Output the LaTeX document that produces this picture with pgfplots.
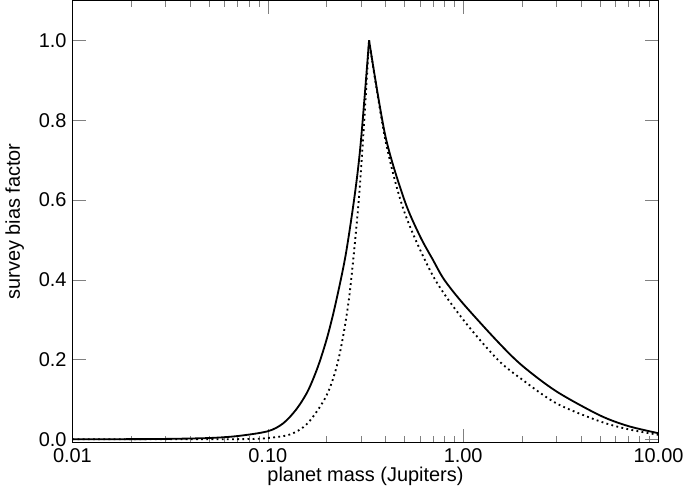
\documentclass[border=0pt]{standalone}
\usepackage{pgfplots}
\pgfplotsset{compat=1.18}
\usepackage{fontspec}
\setmainfont{Liberation Sans}
\begin{document}
\begin{tikzpicture}
\begin{axis}[
  width=12.4cm, height=9.35cm, scale only axis,
  xmode=log, xmin=0.01, xmax=10, ymin=-0.008, ymax=1.1,
  xtick={0.01,0.1,1,10}, xticklabels={0.01,0.10,1.00,10.00},
  ytick={0,0.2,0.4,0.6,0.8,1.0},
  yticklabels={0.0,0.2,0.4,0.6,0.8,1.0},
  tick align=inside, major tick length=8pt, minor tick length=4pt,
  xlabel={planet mass (Jupiters)}, ylabel={survey bias factor},
  label style={font=\large}, tick label style={font=\large},
  xlabel style={yshift=4pt}, ylabel style={yshift=2pt},
  /pgf/number format/assume math mode=true,
  axis line style={line width=0.6pt},
]
\addplot[black, line width=1.1pt, smooth] coordinates {
(0.01,0)(0.02,0.0002)(0.03,0.0008)(0.05,0.003)(0.07,0.008)(0.1,0.02)(0.12,0.04)(0.14,0.075)(0.16,0.12)(0.18,0.18)(0.2,0.25)(0.22,0.33)(0.25,0.46)(0.28,0.62)(0.3,0.75)(0.33,1.0)};
\addplot[black, line width=1.1pt, smooth] coordinates {
(0.33,1.0)(0.4,0.76)(0.5,0.6)(0.6,0.51)(0.7,0.45)(0.8,0.40)(1.0,0.34)(1.5,0.245)(2,0.185)(3,0.12)(5,0.06)(7,0.033)(10,0.015)};
\addplot[black, line width=1.1pt, dotted, smooth] coordinates {
(0.01,0)(0.05,0)(0.08,0.0005)(0.1,0.003)(0.13,0.012)(0.16,0.04)(0.2,0.11)(0.23,0.2)(0.26,0.35)(0.29,0.58)(0.31,0.78)(0.33,1.0)};
\addplot[black, line width=1.1pt, dotted, smooth] coordinates {
(0.33,1.0)(0.4,0.75)(0.5,0.57)(0.7,0.41)(1.0,0.3)(1.5,0.2)(2,0.15)(3,0.09)(5,0.045)(7,0.025)(10,0.011)};
\end{axis}
\end{tikzpicture}
\end{document}
